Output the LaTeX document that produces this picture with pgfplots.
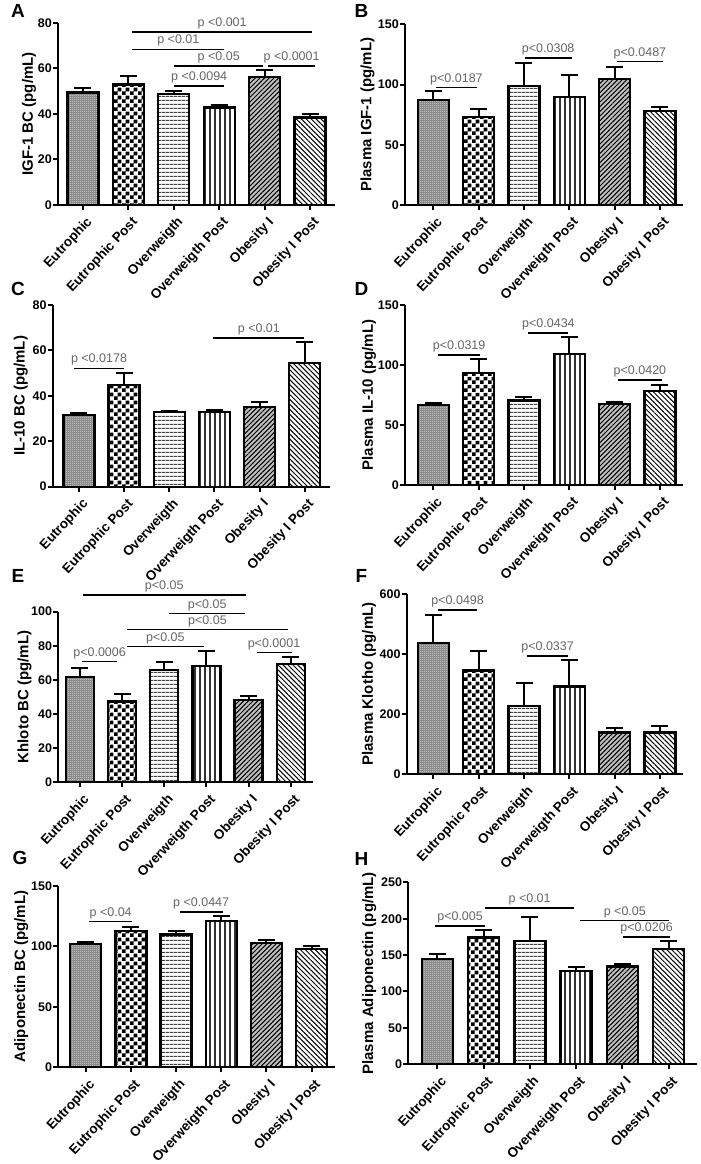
\documentclass[border=0pt]{standalone}
\usepackage{fontspec}
\setmainfont{Liberation Sans}
\usepackage{pgfplots}
\pgfplotsset{compat=1.18}
\usetikzlibrary{patterns,patterns.meta}

\pgfdeclarepatternformonly{bigcheck}{\pgfpointorigin}{\pgfpoint{7.6pt}{7.6pt}}{\pgfpoint{7.6pt}{7.6pt}}{%
 \pgfpathrectangle{\pgfpointorigin}{\pgfpoint{3.8pt}{3.8pt}}%
 \pgfpathrectangle{\pgfpoint{3.8pt}{3.8pt}}{\pgfpoint{3.8pt}{3.8pt}}%
 \pgfusepath{fill}}
\pgfdeclarepatternformonly{finedots}{\pgfpointorigin}{\pgfpoint{2pt}{2pt}}{\pgfpoint{2pt}{2pt}}{%
 \pgfpathrectangle{\pgfpointorigin}{\pgfpoint{1pt}{1pt}}\pgfusepath{fill}}

\newcommand\pf{\fontsize{12.5}{12.5}\selectfont}

\pgfplotsset{
 panel/.style={
   scale only axis, anchor=south west,
   axis x line=bottom, axis y line=left, axis line style={-, line width=2pt},
   tick align=outside, major tick length=5pt,
   major tick style={black, line width=2pt},
   xtick={0,...,5},
   xticklabels={Eutrophic,Eutrophic Post,Overweigth,Overweigth Post,Obesity I,Obesity I Post},
   xticklabel style={rotate=47, anchor=north east, font=\bfseries\fontsize{13.5}{13.5}\selectfont, inner sep=0.5pt, xshift=-2pt, yshift=-5pt},
   yticklabel style={font=\bfseries\fontsize{12.5}{12.5}\selectfont, inner sep=1pt},
   /pgf/number format/assume math mode=true,
   ymin=0, clip=false, bar width=31pt,
   every axis y label/.style={rotate=90, anchor=center, inner sep=0pt, font=\bfseries\fontsize{15}{15}\selectfont},
 },
 bb/.style={ybar, bar shift=0pt, draw=black, line width=2.3pt,
   error bars/y dir=plus, error bars/y explicit,
   error bars/error bar style={line width=2pt, black, solid},
   error bars/error mark options={rotate=90, mark size=8.5pt, line width=2pt, black}},
 s0/.style={fill=black!45, postaction={pattern=finedots, pattern color=white}},
 s1/.style={fill=white, postaction={pattern=bigcheck, pattern color=black}},
 s2/.style={fill=white, postaction={pattern={Lines[angle=0,distance=4pt,line width=1.3pt]}, pattern color=black!75}},
 s3/.style={fill=white, postaction={pattern={Lines[angle=90,distance=5pt,line width=1.2pt]}, pattern color=black!80}},
 s4/.style={fill=black!25, postaction={pattern={Lines[angle=45,distance=3.3pt,line width=1pt]}, pattern color=black}},
 s5/.style={fill=white, postaction={pattern={Lines[angle=-45,distance=3.5pt,line width=1pt]}, pattern color=black}},
}
\tikzset{sig/.style={line width=1.6pt, black}, pl/.style={midway, above=1.5pt, font=\pf, text=black!60, inner sep=0.5pt}}

\begin{document}
\begin{tikzpicture}
\useasboundingbox (0pt,0pt) rectangle (701pt,1164pt);

% panel letters
\node[font=\bfseries\fontsize{19}{19}\selectfont] at (18pt,1153pt) {A};
\node[font=\bfseries\fontsize{19}{19}\selectfont] at (361.5pt,1153pt) {B};
\node[font=\bfseries\fontsize{19}{19}\selectfont] at (18pt,875pt) {C};
\node[font=\bfseries\fontsize{19}{19}\selectfont] at (361.5pt,875pt) {D};
\node[font=\bfseries\fontsize{19}{19}\selectfont] at (18pt,588pt) {E};
\node[font=\bfseries\fontsize{19}{19}\selectfont] at (361.5pt,588pt) {F};
\node[font=\bfseries\fontsize{19}{19}\selectfont] at (20pt,306pt) {G};
\node[font=\bfseries\fontsize{19}{19}\selectfont] at (361.5pt,305pt) {H};

% ---------------- A
\begin{axis}[panel, at={(58pt,959pt)}, width=277pt, height=182pt, xmin=-0.55, xmax=5.55,
  ymax=80, ytick={0,20,40,60,80}, ylabel={IGF-1 BC (pg/mL)},
  ylabel style={at={(axis description cs:-0.105,0.5)}}]
\addplot[bb,s0] coordinates {(0,49.4) +- (0,2.2)};
\addplot[bb,s1] coordinates {(1,53.0) +- (0,3.9)};
\addplot[bb,s2] coordinates {(2,48.7) +- (0,1.4)};
\addplot[bb,s3] coordinates {(3,42.8) +- (0,1.2)};
\addplot[bb,s4] coordinates {(4,56.4) +- (0,2.8)};
\addplot[bb,s5] coordinates {(5,38.4) +- (0,1.5)};
\draw[sig] (axis cs:1.09,76) -- (axis cs:5.04,76) node[pl] {p <0.001};
\draw[sig] (axis cs:1.09,68.4) -- (axis cs:3.11,68.4) node[pl] {p <0.01};
\draw[sig] (axis cs:2.01,61) -- (axis cs:3.97,61) node[pl] {p <0.05};
\draw[sig] (axis cs:4.08,61) -- (axis cs:5.11,61) node[pl] {p <0.0001};
\draw[sig] (axis cs:2.01,52.2) -- (axis cs:3.11,52.2) node[pl] {p <0.0094};
\end{axis}

% ---------------- B
\begin{axis}[panel, at={(405pt,959pt)}, width=278pt, height=180.7pt, xmin=-0.625, xmax=5.51,
  ymax=150, ytick={0,50,100,150}, ylabel={Plasma IGF-1 (pg/mL)},
  ylabel style={at={(axis description cs:-0.135,0.5)}}]
\addplot[bb,s0] coordinates {(0,87.2) +- (0,7.7)};
\addplot[bb,s1] coordinates {(1,73.3) +- (0,6.1)};
\addplot[bb,s2] coordinates {(2,98.8) +- (0,19.4)};
\addplot[bb,s3] coordinates {(3,89.4) +- (0,18.3)};
\addplot[bb,s4] coordinates {(4,104.3) +- (0,10.6)};
\addplot[bb,s5] coordinates {(5,77.8) +- (0,3.3)};
\draw[sig] (axis cs:0.06,97.4) -- (axis cs:0.96,97.4) node[pl] {p<0.0187};
\draw[sig] (axis cs:2.02,121.8) -- (axis cs:3.05,121.8) node[pl] {p<0.0308};
\draw[sig] (axis cs:4.05,119) -- (axis cs:5.07,119) node[pl] {p<0.0487};
\end{axis}

% ---------------- C
\begin{axis}[panel, at={(52.7pt,677.3pt)}, width=277.3pt, height=181.7pt, xmin=-0.58, xmax=5.56,
  ymax=80, ytick={0,20,40,60,80}, ylabel={IL-10 BC (pg/mL)},
  ylabel style={at={(axis description cs:-0.115,0.5)}}]
\addplot[bb,s0] coordinates {(0,31.7) +- (0,0.9)};
\addplot[bb,s1] coordinates {(1,44.8) +- (0,5.4)};
\addplot[bb,s2] coordinates {(2,32.9) +- (0,0.6)};
\addplot[bb,s3] coordinates {(3,32.9) +- (0,0.7)};
\addplot[bb,s4] coordinates {(4,35.2) +- (0,2.1)};
\addplot[bb,s5] coordinates {(5,54.6) +- (0,9.3)};
\draw[sig] (axis cs:-0.11,52.1) -- (axis cs:1.0,52.1) node[pl] {p <0.0178};
\draw[sig] (axis cs:2.98,65.6) -- (axis cs:4.99,65.6) node[pl] {p <0.01};
\end{axis}

% ---------------- D
\begin{axis}[panel, at={(405pt,679pt)}, width=278pt, height=180pt, xmin=-0.625, xmax=5.51,
  ymax=150, ytick={0,50,100,150}, ylabel={Plasma IL-10 (pg/mL)},
  ylabel style={at={(axis description cs:-0.129,0.5)}}]
\addplot[bb,s0] coordinates {(0,66.7) +- (0,1.3)};
\addplot[bb,s1] coordinates {(1,93.6) +- (0,11.1)};
\addplot[bb,s2] coordinates {(2,70.3) +- (0,3.3)};
\addplot[bb,s3] coordinates {(3,108.9) +- (0,14.1)};
\addplot[bb,s4] coordinates {(4,67.5) +- (0,1.7)};
\addplot[bb,s5] coordinates {(5,78.6) +- (0,4.7)};
\draw[sig] (axis cs:0.11,108.3) -- (axis cs:1.03,108.3) node[pl] {p<0.0319};
\draw[sig] (axis cs:2.1,126.9) -- (axis cs:2.98,126.9) node[pl] {p<0.0434};
\draw[sig] (axis cs:4.08,87.5) -- (axis cs:5.04,87.5) node[pl] {p<0.0420};
\end{axis}

% ---------------- E
\begin{axis}[panel, at={(58.3pt,381.7pt)}, width=254.7pt, height=170.6pt, xmin=-0.515, xmax=5.53,
  bar width=28pt,
  ymax=100, ytick={0,20,40,60,80,100}, ylabel={Khloto BC (pg/mL)},
  ylabel style={at={(axis description cs:-0.133,0.5)}}]
\addplot[bb,s0] coordinates {(0,61.9) +- (0,4.9)};
\addplot[bb,s1] coordinates {(1,47.3) +- (0,4.5)};
\addplot[bb,s2] coordinates {(2,65.8) +- (0,4.9)};
\addplot[bb,s3] coordinates {(3,68.2) +- (0,8.9)};
\addplot[bb,s4] coordinates {(4,48.2) +- (0,2.4)};
\addplot[bb,s5] coordinates {(5,69.3) +- (0,4.3)};
\draw[sig] (axis cs:0.06,109.8) -- (axis cs:3.94,109.8) node[pl] {p<0.05};
\draw[sig] (axis cs:2.12,99) -- (axis cs:3.92,99) node[pl] {p<0.05};
\draw[sig] (axis cs:1.11,89.6) -- (axis cs:4.94,89.6) node[pl] {p<0.05};
\draw[sig] (axis cs:1.11,79.5) -- (axis cs:2.94,79.5) node[pl] {p<0.05};
\draw[sig] (axis cs:0.04,70.7) -- (axis cs:0.89,70.7) node[pl] {p<0.0006};
\draw[sig] (axis cs:4.19,76) -- (axis cs:5.02,76) node[pl] {p<0.0001};
\end{axis}

% ---------------- F
\begin{axis}[panel, at={(406.7pt,389.7pt)}, width=276.3pt, height=180.3pt, xmin=-0.59, xmax=5.51,
  ymax=600, ytick={0,200,400,600}, ylabel={Plasma Klotho (pg/mL)},
  ylabel style={at={(axis description cs:-0.136,0.5)}}]
\addplot[bb,s0] coordinates {(0,437) +- (0,93)};
\addplot[bb,s1] coordinates {(1,345) +- (0,64)};
\addplot[bb,s2] coordinates {(2,227) +- (0,76)};
\addplot[bb,s3] coordinates {(3,292) +- (0,88)};
\addplot[bb,s4] coordinates {(4,139) +- (0,16)};
\addplot[bb,s5] coordinates {(5,139) +- (0,22)};
\draw[sig] (axis cs:0.11,547) -- (axis cs:0.96,547) node[pl] {p<0.0498};
\draw[sig] (axis cs:2.06,394) -- (axis cs:2.98,394) node[pl] {p<0.0337};
\end{axis}

% ---------------- G
\begin{axis}[panel, at={(58.3pt,96.7pt)}, width=276.7pt, height=181.6pt, xmin=-0.61, xmax=5.52,
  ymax=150, ytick={0,50,100,150}, ylabel={Adiponectin BC (pg/mL)},
  ylabel style={at={(axis description cs:-0.134,0.5)}}]
\addplot[bb,s0] coordinates {(0,102) +- (0,1.5)};
\addplot[bb,s1] coordinates {(1,112.6) +- (0,3.4)};
\addplot[bb,s2] coordinates {(2,109.8) +- (0,2.8)};
\addplot[bb,s3] coordinates {(3,120.8) +- (0,4.2)};
\addplot[bb,s4] coordinates {(4,102.8) +- (0,2.7)};
\addplot[bb,s5] coordinates {(5,97.7) +- (0,2.8)};
\draw[sig] (axis cs:0.07,120.3) -- (axis cs:1.03,120.3) node[pl] {p <0.04};
\draw[sig] (axis cs:2.08,128.5) -- (axis cs:3.03,128.5) node[pl] {p <0.0447};
\end{axis}

% ---------------- H
\begin{axis}[panel, at={(408.3pt,99.7pt)}, width=288.4pt, height=182pt, xmin=-0.63, xmax=5.61,
  ymax=250, ytick={0,50,100,150,200,250}, ylabel={Plasma Adiponectin (pg/mL)},
  ylabel style={at={(axis description cs:-0.135,0.5)}}]
\addplot[bb,s0] coordinates {(0,144.2) +- (0,7.4)};
\addplot[bb,s1] coordinates {(1,174) +- (0,10.5)};
\addplot[bb,s2] coordinates {(2,169.4) +- (0,32.6)};
\addplot[bb,s3] coordinates {(3,128.2) +- (0,6)};
\addplot[bb,s4] coordinates {(4,134.2) +- (0,3.2)};
\addplot[bb,s5] coordinates {(5,158.4) +- (0,11)};
\draw[sig] (axis cs:-0.05,190) -- (axis cs:1.03,190) node[pl] {p<0.005};
\draw[sig] (axis cs:1.03,214.3) -- (axis cs:2.96,214.3) node[pl] {p <0.01};
\draw[sig] (axis cs:3.09,197.3) -- (axis cs:5.02,197.3) node[pl] {p <0.05};
\draw[sig] (axis cs:4.01,174.5) -- (axis cs:5.04,174.5) node[pl] {p<0.0206};
\end{axis}
\end{tikzpicture}
\end{document}
